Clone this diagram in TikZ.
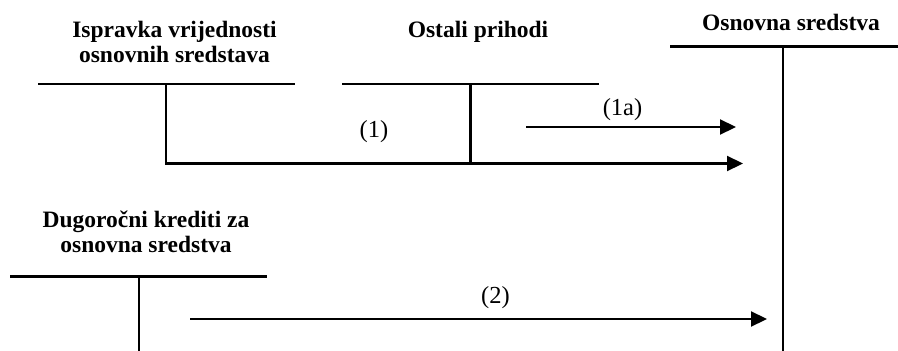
\documentclass[tikz,border=0pt]{standalone}
\usepackage{fontspec}
\setmainfont{Liberation Serif}
\usetikzlibrary{arrows.meta}
\begin{document}
\begin{tikzpicture}[x=1pt,y=-1pt,
  title/.style={font=\bfseries\fontsize{23.5}{25}\selectfont, align=center, inner sep=0pt, anchor=base},
  lbl/.style={font=\fontsize{24.5}{26}\selectfont, inner sep=0pt, anchor=base},
  acct/.style={line width=2.2pt},
  flow/.style={line width=2.2pt, -{Triangle[length=16pt,width=15pt]}}]
\useasboundingbox (0,0) rectangle (898,351);

% T-account: Ispravka vrijednosti osnovnih sredstava (base = last line)
\node[title] (t1) at (174.5,62) {Ispravka vrijednosti\\osnovnih sredstava};
\coordinate (t1l) at (38,84);
\coordinate (t1r) at (295,84);
\coordinate (t1m) at (166,84);
\coordinate (t1b) at (166,163.5);
\draw[acct] (t1l) -- (t1r);

% T-account: Ostali prihodi
\node[title] (t2) at (478,37) {Ostali prihodi};
\coordinate (t2l) at (342,84);
\coordinate (t2r) at (599,84);
\coordinate (t2m) at (470.5,84);
\coordinate (t2b) at (470.5,163.5);
\draw[acct] (t2l) -- (t2r);
\draw[acct] (t2m) -- (t2b);

% T-account: Osnovna sredstva
\node[title] (t3) at (791,30) {Osnovna sredstva};
\coordinate (t3l) at (670,46.5);
\coordinate (t3r) at (898,46.5);
\coordinate (t3m) at (783,46.5);
\coordinate (t3b) at (783,351);
\draw[acct] (t3l) -- (t3r);
\draw[acct] (t3m) -- (t3b);

% T-account: Dugoročni krediti za osnovna sredstva
\node[title] (t4) at (146,252.5) {Dugoročni krediti za\\osnovna sredstva};
\coordinate (t4l) at (10,276.5);
\coordinate (t4r) at (267,276.5);
\coordinate (t4m) at (139,276.5);
\coordinate (t4b) at (139,351);
\draw[acct] (t4l) -- (t4r);
\draw[acct] (t4m) -- (t4b);

% posting flows
\coordinate (e1) at (743,163.5);
\draw[flow] (t1m) -- (t1b) -- (e1);
\node[lbl] (l1) at (374,137.7) {(1)};

\coordinate (s1a) at (526,127);
\coordinate (e1a) at (736,127);
\draw[flow] (s1a) -- (e1a);
\node[lbl] (l1a) at (622.5,115.3) {(1a)};

\coordinate (s2) at (190,319);
\coordinate (e2) at (767,319);
\draw[flow] (s2) -- (e2);
\node[lbl] (l2) at (495.5,303.7) {(2)};
\end{tikzpicture}
\end{document}
